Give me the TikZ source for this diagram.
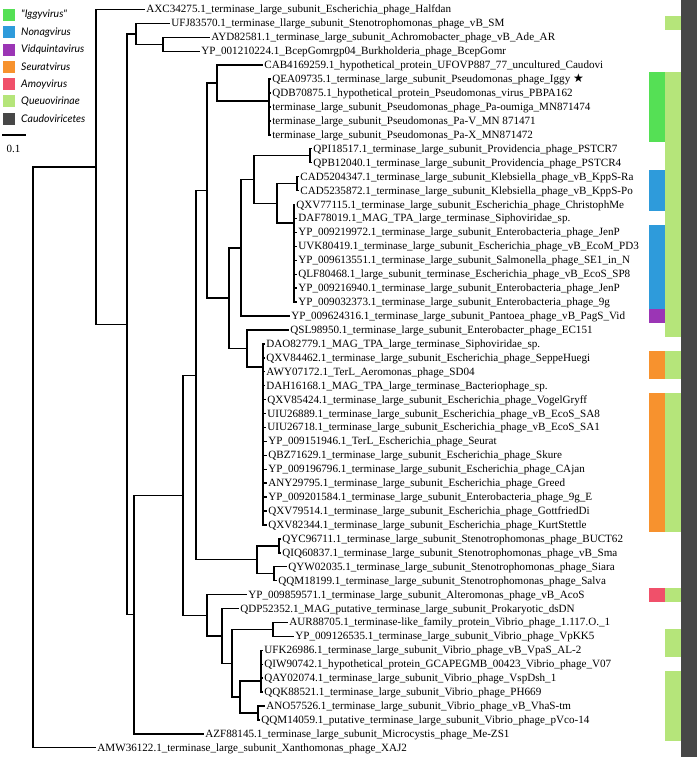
\documentclass[tikz,border=0pt]{standalone}
\usepackage{fontspec}
\setmainfont{Liberation Serif}
\newfontfamily\legfont{Lato}
\newfontfamily\symfont{DejaVu Sans}
\definecolor{ciggy}{HTML}{55E055}
\definecolor{cnonag}{HTML}{2E9BDB}
\definecolor{cvidq}{HTML}{9B35B5}
\definecolor{cseur}{HTML}{F7922E}
\definecolor{camoy}{HTML}{F0506A}
\definecolor{cqueu}{HTML}{B5E57A}
\definecolor{ccaud}{HTML}{474747}
\newcommand\lf[5]{%
  \coordinate (#2) at (#3,#4);
  \draw[br] (#1) |- (#2);
  \node[lfs] (#2t) at (#2) {\detokenize{#5}};}
\begin{document}
\begin{tikzpicture}[x=1pt,y=-1pt,
  br/.style={line width=1.4pt},
  lfs/.style={anchor=west, inner xsep=1.2pt, inner ysep=0pt,
    font=\fontsize{11.1}{12}\selectfont, text height=8pt, text depth=1pt},
  legbox/.style={minimum width=12pt, minimum height=12pt, inner sep=0pt, anchor=west},
  legtxt/.style={anchor=west, inner sep=0pt, font=\legfont\itshape\fontsize{10.5}{12}\selectfont}]
\useasboundingbox (0,0) rectangle (697,759);
% ---------- legend ----------
\foreach \c/\t [count=\k] in {ciggy/{"Iggyvirus"},cnonag/Nonagvirus,cvidq/Vidquintavirus,cseur/Seuratvirus,camoy/Amoyvirus,cqueu/Queuovirinae,ccaud/Caudoviricetes}{
  \node[legbox, fill=\c] (lg\k) at (3,{15+17.3*(\k-1)}) {};
  \node[legtxt] (lt\k) at (21,{15+17.3*(\k-1)}) {\t};
}
\coordinate (sb1) at (2,135);
\coordinate (sb2) at (26,135);
\draw[line width=1.8pt] (sb1) -- (sb2);
\node[font=\fontsize{11}{12}\selectfont, inner sep=0pt] (sbl) at (13.5,149) {0.1};
% ---------- side bars ----------
\fill[ccaud] (681,0) rectangle (697,757);
% Queuovirinae
\fill[cqueu] (665,16.4) rectangle (681,30.4);
\fill[cqueu] (665,72.2) rectangle (681,336.9);
\fill[cqueu] (665,350.8) rectangle (681,378.6);
\fill[cqueu] (665,392.6) rectangle (681,531.9);
\fill[cqueu] (665,587.6) rectangle (681,601.5);
\fill[cqueu] (665,629.3) rectangle (681,657.2);
\fill[cqueu] (665,671.1) rectangle (681,740.8);
% genera
\fill[ciggy] (649,72.2) rectangle (665,141.9);
\fill[cnonag] (649,169.7) rectangle (665,211.5);
\fill[cnonag] (649,225.4) rectangle (665,309.0);
\fill[cvidq] (649,309.0) rectangle (665,322.9);
\fill[cseur] (649,350.8) rectangle (665,378.6);
\fill[cseur] (649,392.6) rectangle (665,531.9);
\fill[camoy] (649,587.6) rectangle (665,601.5);
% ---------- internal nodes ----------
\coordinate (root) at (33,457.3);
\coordinate (A) at (96,166.9);
\coordinate (B) at (127,324.2);
\coordinate (C) at (136,33.9);
\coordinate (D) at (163,44.4);
\coordinate (E) at (134,614.5);
\coordinate (F) at (183,495.2);
\coordinate (G) at (196,375.2);
\coordinate (I) at (207,190.6);
\coordinate (H) at (217,83.1);
\coordinate (IG) at (269,101);
\coordinate (J) at (229,298.1);
\coordinate (K) at (241,247.8);
\coordinate (M) at (254,179.5);
\coordinate (PV) at (310,155.8);
\coordinate (N) at (277,203.3);
\coordinate (CD) at (297,183.6);
\coordinate (NB) at (294,223);
\coordinate (L) at (247,348.5);
\coordinate (SE) at (263,367);
\coordinate (O) at (257,559.7);
\coordinate (P) at (279,545.8);
\coordinate (Q) at (274,573.7);
\coordinate (Rr) at (207,615.2);
\coordinate (S) at (222,635.8);
\coordinate (T) at (232,663.2);
\coordinate (U) at (273,629.4);
\coordinate (V) at (240,697);
\coordinate (VA) at (261,681);
\coordinate (VB) at (258,713);
\foreach \p/\c in {root/A,A/B,B/C,C/D,B/E,E/F,F/G,G/I,I/H,H/IG,I/J,J/K,K/M,M/PV,M/N,N/CD,N/NB,J/L,L/SE,G/O,O/P,O/Q,F/Rr,Rr/S,S/T,T/U,T/V,V/VA,V/VB}
  \draw[br] (\p) |- (\c);
% ---------- leaves ----------
\lf{A}{l1}{145}{9.5}{AXC34275.1_terminase_large_subunit_Escherichia_phage_Halfdan}
\lf{C}{l2}{170}{23.4}{UFJ83570.1_terminase_llarge_subunit_Stenotrophomonas_phage_vB_SM}
\lf{D}{l3}{210}{37.4}{AYD82581.1_terminase_large_subunit_Achromobacter_phage_vB_Ade_AR}
\lf{D}{l4}{200}{51.3}{YP_001210224.1_BcepGomrgp04_Burkholderia_phage_BcepGomr}
\lf{H}{l5}{263}{65.2}{CAB4169259.1_hypothetical_protein_UFOVP887_77_uncultured_Caudovi}
\coordinate (l6) at (271,79.2);
\draw[br] (IG) |- (l6);
\node[lfs] (l6t) at (l6) {\detokenize{QEA09735.1_terminase_large_subunit_Pseudomonas_phage_Iggy} {\symfont\fontsize{12}{12}\selectfont ★}};
\lf{IG}{l7}{271}{93.1}{QDB70875.1_hypothetical_protein_Pseudomonas_virus_PBPA162}
\lf{IG}{l8}{271}{107.0}{terminase_large_subunit_Pseudomonas_phage_Pa-oumiga_MN871474}
\lf{IG}{l9}{271}{121.0}{terminase_large_subunit_Pseudomonas_Pa-V_MN 871471}
\lf{IG}{l10}{271}{134.9}{terminase_large_subunit_Pseudomonas_Pa-X_MN871472}
\lf{PV}{l11}{312}{148.8}{QPI18517.1_terminase_large_subunit_Providencia_phage_PSTCR7}
\lf{PV}{l12}{312}{162.7}{QPB12040.1_terminase_large_subunit_Providencia_phage_PSTCR4}
\lf{CD}{l13}{299}{176.7}{CAD5204347.1_terminase_large_subunit_Klebsiella_phage_vB_KppS-Ra}
\lf{CD}{l14}{299}{190.6}{CAD5235872.1_terminase_large_subunit_Klebsiella_phage_vB_KppS-Po}
\lf{NB}{l15}{295}{204.5}{QXV77115.1_terminase_large_subunit_Escherichia_phage_ChristophMe}
\lf{NB}{l16}{297}{218.5}{DAF78019.1_MAG_TPA_large_terminase_Siphoviridae_sp.}
\lf{NB}{l17}{297}{232.4}{YP_009219972.1_terminase_large_subunit_Enterobacteria_phage_JenP}
\lf{NB}{l18}{297}{246.3}{UVK80419.1_terminase_large_subunit_Escherichia_phage_vB_EcoM_PD3}
\lf{NB}{l19}{297}{260.2}{YP_009613551.1_terminase_large_subunit_Salmonella_phage_SE1_in_N}
\lf{NB}{l20}{297}{274.2}{QLF80468.1_large_subunit_terminase_Escherichia_phage_vB_EcoS_SP8}
\lf{NB}{l21}{297}{288.1}{YP_009216940.1_terminase_large_subunit_Enterobacteria_phage_JenP}
\lf{NB}{l22}{297}{302.0}{YP_009032373.1_terminase_large_subunit_Enterobacteria_phage_9g}
\lf{K}{l23}{290}{316.0}{YP_009624316.1_terminase_large_subunit_Pantoea_phage_vB_PagS_Vid}
\lf{L}{l24}{289}{329.9}{QSL98950.1_terminase_large_subunit_Enterobacter_phage_EC151}
\lf{SE}{l25}{265}{343.8}{DAO82779.1_MAG_TPA_large_terminase_Siphoviridae_sp.}
\lf{SE}{l26}{265}{357.8}{QXV84462.1_terminase_large_subunit_Escherichia_phage_SeppeHuegi}
\lf{SE}{l27}{265}{371.7}{AWY07172.1_TerL_Aeromonas_phage_SD04}
\lf{SE}{l28}{265}{385.6}{DAH16168.1_MAG_TPA_large_terminase_Bacteriophage_sp.}
\lf{SE}{l29}{266}{399.5}{QXV85424.1_terminase_large_subunit_Escherichia_phage_VogelGryff}
\lf{SE}{l30}{266}{413.5}{UIU26889.1_terminase_large_subunit_Escherichia_phage_vB_EcoS_SA8}
\lf{SE}{l31}{266}{427.4}{UIU26718.1_terminase_large_subunit_Escherichia_phage_vB_EcoS_SA1}
\lf{SE}{l32}{267}{441.3}{YP_009151946.1_TerL_Escherichia_phage_Seurat}
\lf{SE}{l33}{267}{455.3}{QBZ71629.1_terminase_large_subunit_Escherichia_phage_Skure}
\lf{SE}{l34}{267}{469.2}{YP_009196796.1_terminase_large_subunit_Escherichia_phage_CAjan}
\lf{SE}{l35}{267}{483.1}{ANY29795.1_terminase_large_subunit_Escherichia_phage_Greed}
\lf{SE}{l36}{267}{497.0}{YP_009201584.1_terminase_large_subunit_Enterobacteria_phage_9g_E}
\lf{SE}{l37}{267}{511.0}{QXV79514.1_terminase_large_subunit_Escherichia_phage_GottfriedDi}
\lf{SE}{l38}{267}{524.9}{QXV82344.1_terminase_large_subunit_Escherichia_phage_KurtStettle}
\lf{P}{l39}{281}{538.8}{QYC96711.1_terminase_large_subunit_Stenotrophomonas_phage_BUCT62}
\lf{P}{l40}{281}{552.8}{QIQ60837.1_terminase_large_subunit_Stenotrophomonas_phage_vB_Sma}
\lf{Q}{l41}{287}{566.7}{QYW02035.1_terminase_large_subunit_Stenotrophomonas_phage_Siara}
\lf{Q}{l42}{277}{580.6}{QQM18199.1_terminase_large_subunit_Stenotrophomonas_phage_Salva}
\lf{Rr}{l43}{247}{594.5}{YP_009859571.1_terminase_large_subunit_Alteromonas_phage_vB_AcoS}
\lf{S}{l44}{239}{608.5}{QDP52352.1_MAG_putative_terminase_large_subunit_Prokaryotic_dsDN}
\lf{U}{l45}{288}{622.4}{AUR88705.1_terminase-like_family_protein_Vibrio_phage_1.117.O._1}
\lf{U}{l46}{294}{636.3}{YP_009126535.1_terminase_large_subunit_Vibrio_phage_VpKK5}
\lf{VA}{l47}{263}{650.3}{UFK26986.1_terminase_large_subunit_Vibrio_phage_vB_VpaS_AL-2}
\lf{VA}{l48}{263}{664.2}{QIW90742.1_hypothetical_protein_GCAPEGMB_00423_Vibrio_phage_V07}
\lf{VA}{l49}{263}{678.1}{QAY02074.1_terminase_large_subunit_Vibrio_phage_VspDsh_1}
\lf{VA}{l50}{263}{692.0}{QQK88521.1_terminase_large_subunit_Vibrio_phage_PH669}
\lf{VB}{l51}{265}{706.0}{ANO57526.1_terminase_large_subunit_Vibrio_phage_vB_VhaS-tm}
\lf{VB}{l52}{260}{719.9}{QQM14059.1_putative_terminase_large_subunit_Vibrio_phage_pVco-14}
\lf{E}{l53}{204}{733.8}{AZF88145.1_terminase_large_subunit_Microcystis_phage_Me-ZS1}
\lf{root}{l54}{96}{747.7}{AMW36122.1_terminase_large_subunit_Xanthomonas_phage_XAJ2}
\end{tikzpicture}
\end{document}
